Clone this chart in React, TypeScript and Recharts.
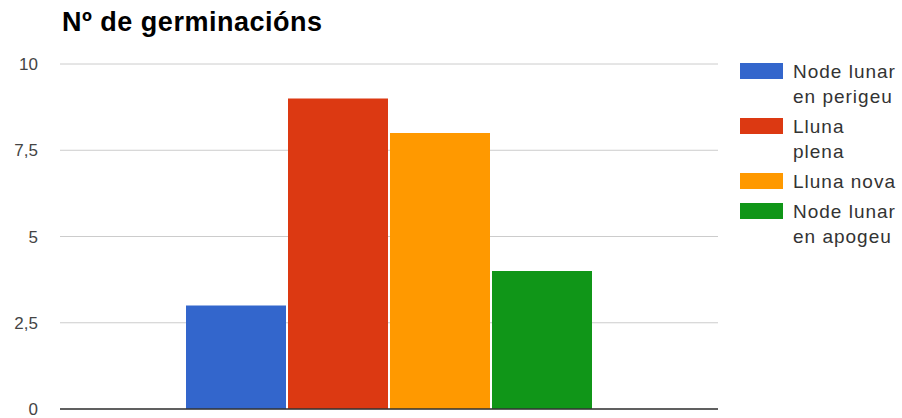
import {
  BarChart,
  Bar,
  XAxis,
  YAxis,
  CartesianGrid,
  ReferenceLine,
} from "recharts";

const seriesKeys = ["perigeu", "plena", "nova", "apogeu"];
const seriesLabels = [
  ["Node lunar", "en perigeu"],
  ["Lluna", "plena"],
  ["Lluna nova"],
  ["Node lunar", "en apogeu"],
];
const seriesValues = [3, 9, 8, 4];
const seriesColors = ["#3366cc", "#dc3912", "#ff9900", "#109618"];
const yTicks = [0, 2.5, 5, 7.5, 10];

const data = [
  seriesKeys.reduce(
    (row, key, i) => ({ ...row, [key]: seriesValues[i] }),
    { name: "" } as Record<string, string | number>
  ),
];

const FONT = '"Liberation Sans", Arial, sans-serif';

const LegendBox = () => (
  <div style={{ position: "absolute", left: 740, top: 59, fontFamily: FONT }}>
    {seriesKeys.map((key, i) => (
      <div key={key} style={{ display: "flex", marginBottom: 5 }}>
        <div
          style={{
            width: 43,
            height: 16,
            marginTop: 4,
            marginRight: 10,
            background: seriesColors[i],
          }}
        />
        <div
          style={{
            fontSize: 19,
            lineHeight: "25px",
            letterSpacing: 1,
            color: "#333",
            whiteSpace: "nowrap",
          }}
        >
          {seriesLabels[i].map((line) => (
            <div key={line}>{line}</div>
          ))}
        </div>
      </div>
    ))}
  </div>
);

export default function App() {
  return (
    <div
      style={{
        position: "absolute",
        left: 0,
        top: 0,
        width: 902,
        height: 418,
        background: "#fff",
      }}
    >
      <div
        style={{
          position: "absolute",
          left: 62,
          top: 9,
          fontFamily: FONT,
          fontWeight: "bold",
          fontSize: 27,
          letterSpacing: 0.5,
          lineHeight: 1,
          color: "#000",
          whiteSpace: "nowrap",
        }}
      >
        Nº de germinacións
      </div>
      <BarChart
        width={902}
        height={418}
        data={data}
        margin={{ top: 64, right: 184, bottom: 9, left: 0 }}
        barCategoryGap={126}
        barGap={2}
      >
        <CartesianGrid vertical={false} stroke="#cccccc" />
        <XAxis dataKey="name" hide />
        <YAxis
          width={60}
          domain={[0, 10]}
          ticks={yTicks}
          interval={0}
          axisLine={false}
          tickLine={false}
          tickSize={0}
          tickMargin={22}
          tickFormatter={(v: number) => String(v).replace(".", ",")}
          tick={{ fontSize: 17, fill: "#444", fontFamily: FONT }}
        />
        {seriesKeys.map((key, i) => (
          <Bar
            key={key}
            dataKey={key}
            fill={seriesColors[i]}
            isAnimationActive={false}
          />
        ))}
        <ReferenceLine y={0} stroke="#333" strokeWidth={1.5} />
      </BarChart>
      <LegendBox />
    </div>
  );
}
